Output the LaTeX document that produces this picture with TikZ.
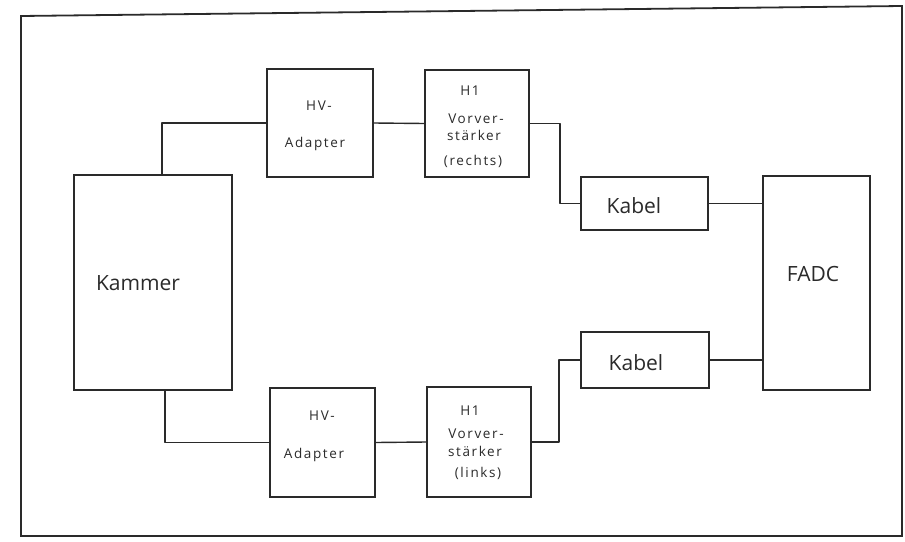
\documentclass[tikz,border=0pt]{standalone}
\usepackage{fontspec}
\setmainfont{Open Sans}
\newfontfamily\lblfont[LetterSpace=12]{Open Sans}
\definecolor{ink}{HTML}{2A2A2A}
\begin{document}
\begin{tikzpicture}[x=1pt,y=-1pt,
  box/.style={draw=ink, line width=1.4pt, inner sep=0pt, minimum width=#1},
  big/.style={text=ink, inner sep=0pt, anchor=base, font=\fontsize{21}{25}\selectfont},
  small/.style={text=ink, inner sep=0pt, anchor=base, font=\lblfont\fontsize{13.5}{16}\selectfont},
  wire/.style={draw=ink, line width=1.4pt, line join=round}]
\useasboundingbox (0,0) rectangle (905,541);
% frame
\draw[ink, line width=1.8pt] (21,16) -- (902,6) -- (902,536) -- (21,536) -- cycle;
% boxes
\node[box=158pt, minimum height=215pt] (kammer) at (153,282.5) {};
\node[box=106pt, minimum height=108pt] (hvt) at (320,123) {};
\node[box=104pt, minimum height=107pt] (h1t) at (477,123.5) {};
\node[box=127pt, minimum height=53pt] (kt) at (644.5,203.5) {};
\node[box=107pt, minimum height=214pt] (fadc) at (816.5,283) {};
\node[box=128pt, minimum height=56pt] (kb) at (645,360) {};
\node[box=105pt, minimum height=109pt] (hvb) at (322.5,442.5) {};
\node[box=104pt, minimum height=110pt] (h1b) at (479,442) {};
% texts
\node[big] (kammertxt) at (138,290) {Kammer};
\node[big] (kttxt) at (634,213) {Kabel};
\node[big] (kbtxt) at (636,370) {Kabel};
\node[big] (fadctxt) at (813,281) {FADC};
\node[small] (hvt1) at (319,110) {HV-};
\node[small] (hvt2) at (315,147) {Adapter};
\node[small] (h1t1) at (470,95) {H1};
\node[small] (h1t2) at (476,123) {Vorver-};
\node[small] (h1t3) at (474,140) {stärker};
\node[small] (h1t4) at (473,165) {(rechts)};
\node[small] (hvb1) at (322,420) {HV-};
\node[small] (hvb2) at (314,458) {Adapter};
\node[small] (h1b1) at (470,415) {H1};
\node[small] (h1b2) at (476,438) {Vorver-};
\node[small] (h1b3) at (475,456) {stärker};
\node[small] (h1b4) at (478,477) {(links)};
% junction coordinates
\coordinate (jt) at (560,0);
\coordinate (jb) at (559,0);
% connectors
\draw[wire] ([xshift=9pt]kammer.north) |- (hvt.west);
\draw[wire] (hvt.east) -- (h1t.west);
\draw[wire] (h1t.east) -- (h1t.east -| jt) |- (kt.west);
\draw[wire] (kt.east) -- (fadc.west |- kt.east);
\draw[wire] ([xshift=12pt]kammer.south) |- (hvb.west);
\draw[wire] (hvb.east) -- (h1b.west);
\draw[wire] (h1b.east) -- (h1b.east -| jb) |- (kb.west);
\draw[wire] (kb.east) -- (fadc.west |- kb.east);
\end{tikzpicture}
\end{document}
